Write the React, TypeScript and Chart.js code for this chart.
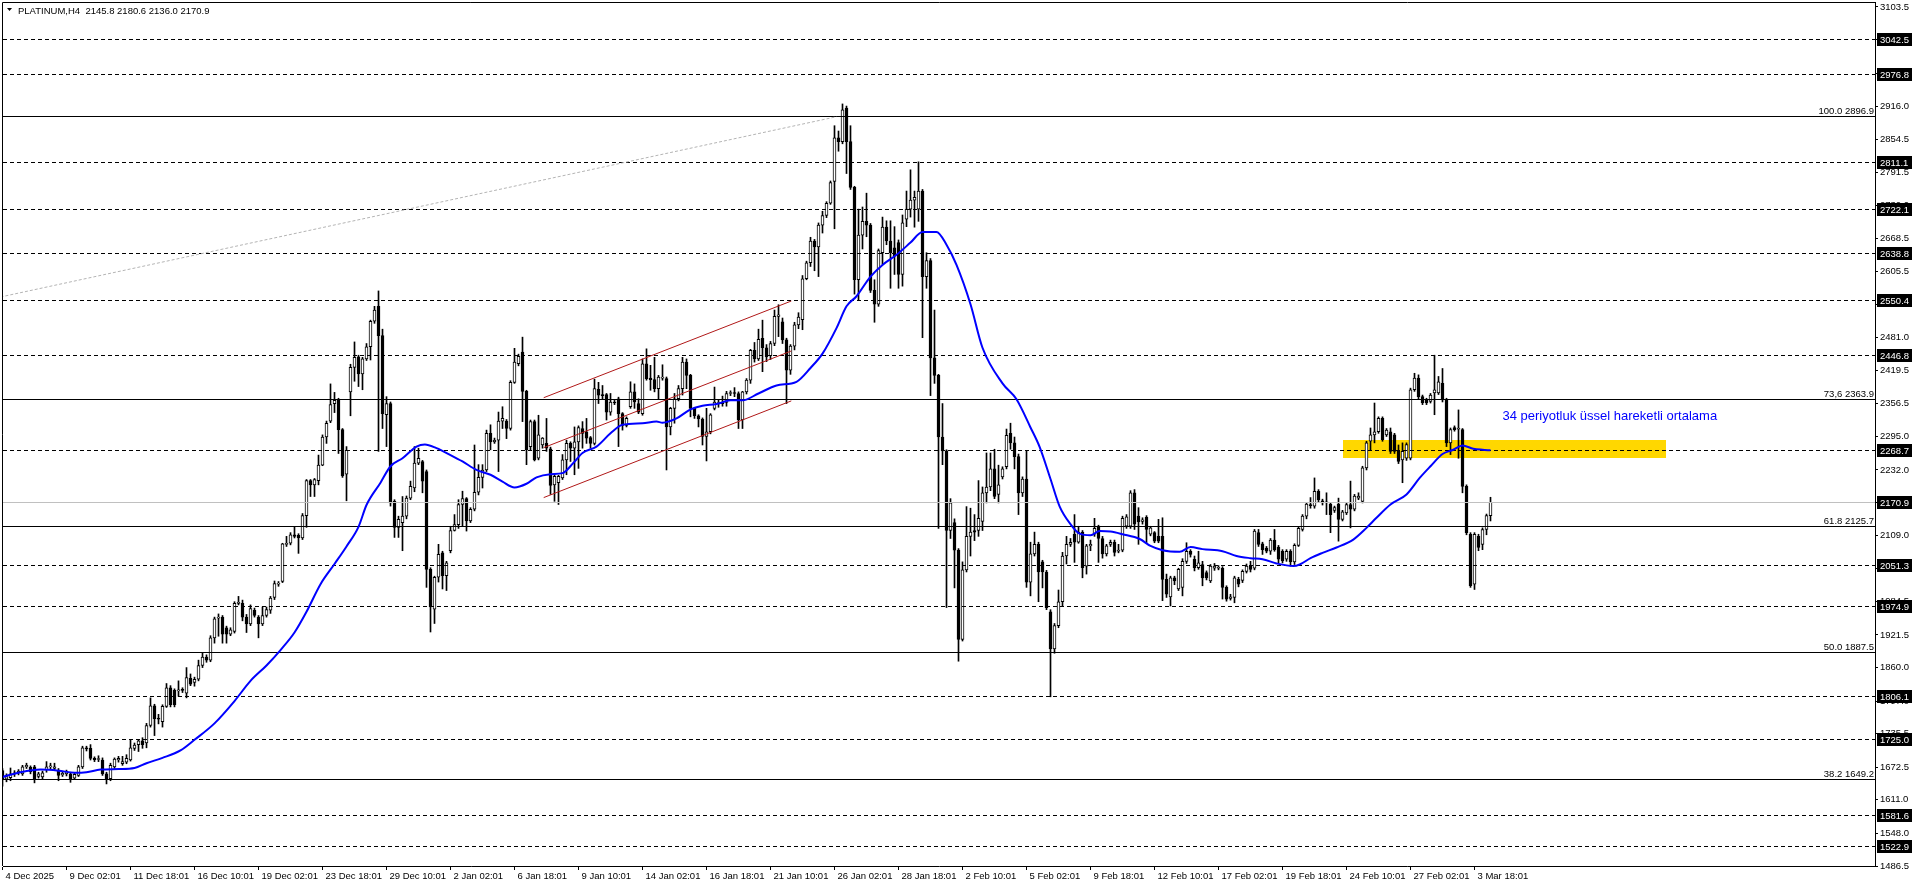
import React, { useEffect, useRef } from "react";
import { Chart, registerables } from "chart.js";

Chart.register(...registerables);

// ---------------- data ----------------
const symbolTitle = "PLATINUM,H4";

const opens = [
  1666,1650,1653,1660,1662,1660,1673,1672,1673,1655,
  1654,1668,1673,1670,1667,1658,1660,1660,1652,1657,
  1673,1709,1708,1689,1687,1686,1660,1651,1673,1686,
  1679,1682,1686,1708,1715,1722,1718,1751,1788,1765,
  1758,1787,1822,1817,1816,1818,1812,1840,1832,1838,
  1864,1880,1874,1916,1953,1955,1935,1923,1928,1981,
  1981,1955,1942,1968,1955,1942,1958,1968,1992,2017,
  2022,2092,2094,2110,2109,2104,2146,2212,2204,2212,
  2241,2294,2324,2357,2363,2308,2224,2379,2425,2445,
  2413,2441,2464,2512,2540,2485,2336,2357,2173,2124,
  2133,2145,2179,2198,2245,2248,2229,2045,1970,2030,
  2076,2033,2080,2118,2129,2167,2178,2136,2158,2190,
  2218,2232,2301,2285,2288,2324,2324,2310,2397,2432,
  2454,2380,2276,2323,2254,2279,2282,2272,2204,2208,
  2217,2251,2282,2273,2285,2310,2304,2293,2282,2384,
  2373,2374,2341,2360,2366,2338,2316,2351,2379,2357,
  2338,2432,2405,2402,2385,2405,2404,2313,2348,2366,
  2385,2435,2410,2348,2334,2328,2295,2304,2348,2357,
  2357,2359,2376,2377,2376,2326,2379,2401,2457,2441,
  2480,2462,2447,2470,2521,2511,2477,2420,2465,2505,
  2515,2592,2622,2663,2652,2693,2711,2734,2775,2857,
  2850,2913,2850,2764,2590,2674,2700,2693,2570,2544,
  2641,2689,2663,2650,2660,2600,2704,2723,2740,2723,
  2757,2596,2626,2443,2410,2294,2268,2118,2133,2081,
  1913,2044,2107,2118,2118,2135,2189,2200,2234,2186,
  2219,2238,2301,2283,2257,2189,2215,2021,2074,2092,
  2059,2040,1965,1895,1939,1984,2070,2092,2111,2096,
  2115,2051,2089,2111,2126,2103,2074,2092,2096,2079,
  2081,2126,2126,2189,2145,2135,2143,2111,2114,2107,
  2107,2026,1993,2029,2008,2011,2060,2079,2064,2048,
  2054,2039,2023,2047,2047,2047,2011,1990,1992,2026,
  2024,2041,2051,2047,2114,2093,2085,2079,2100,2087,
  2079,2064,2079,2059,2090,2120,2145,2167,2164,2192,
  2174,2170,2168,2156,2168,2139,2151,2167,2158,2179,
  2173,2236,2286,2298,2304,2329,2298,2304,2298,2267,
  2251,2254,2254,2383,2405,2370,2364,2361,2377,2377,
  2395,2364,2283,2312,2309,2308,2201,2111,2017,2107,
  2092,2120,2145.8,
];

const highs = [
  1670,1660,1671,1666,1668,1676,1680,1675,1676,1663,
  1665,1683,1680,1680,1670,1664,1667,1663,1662,1676,
  1712,1712,1715,1692,1694,1690,1663,1680,1690,1693,
  1693,1696,1725,1718,1725,1728,1755,1803,1791,1772,
  1790,1830,1826,1820,1835,1822,1860,1848,1842,1874,
  1887,1884,1920,1955,1961,1958,1938,1935,1984,1994,
  1987,1960,1978,1972,1958,1974,1974,1994,2023,2022,
  2094,2107,2114,2125,2112,2150,2214,2214,2216,2260,
  2298,2324,2394,2378,2367,2310,2276,2431,2473,2448,
  2444,2470,2514,2540,2569,2497,2370,2360,2176,2145,
  2182,2183,2211,2276,2273,2250,2232,2048,2032,2092,
  2079,2060,2126,2148,2176,2192,2180,2161,2279,2242,
  2242,2307,2317,2292,2341,2351,2327,2400,2461,2450,
  2482,2382,2326,2326,2335,2293,2329,2275,2225,2222,
  2261,2288,2285,2313,2315,2323,2329,2295,2403,2397,
  2391,2376,2376,2363,2369,2340,2332,2398,2394,2366,
  2441,2460,2429,2444,2410,2430,2407,2350,2376,2391,
  2444,2441,2412,2350,2336,2330,2348,2338,2388,2365,
  2371,2380,2381,2387,2379,2380,2404,2459,2472,2497,
  2514,2468,2474,2533,2543,2518,2480,2468,2510,2528,
  2598,2625,2670,2666,2697,2719,2737,2776,2880,2870,
  2921,2917,2880,2766,2723,2727,2753,2696,2590,2648,
  2708,2701,2701,2690,2665,2712,2757,2797,2757,2812,
  2760,2641,2630,2533,2412,2357,2270,2178,2140,2084,
  2059,2163,2160,2148,2212,2200,2264,2264,2271,2241,
  2238,2309,2320,2294,2262,2219,2268,2096,2115,2096,
  2062,2043,1969,1943,2006,2077,2107,2103,2148,2126,
  2118,2092,2100,2141,2128,2107,2092,2100,2100,2092,
  2145,2148,2193,2195,2161,2142,2146,2126,2116,2139,
  2142,2036,2032,2032,2047,2065,2095,2082,2070,2079,
  2060,2042,2054,2056,2052,2050,2014,1998,2032,2030,
  2044,2055,2060,2120,2120,2096,2088,2103,2120,2090,
  2082,2082,2082,2093,2125,2148,2170,2180,2217,2195,
  2177,2189,2171,2164,2179,2156,2170,2211,2186,2189,
  2239,2286,2311,2358,2332,2332,2310,2311,2301,2279,
  2283,2283,2386,2414,2411,2373,2367,2376,2448,2408,
  2423,2367,2311,2315,2345,2310,2204,2114,2114,2111,
  2123,2149,2180.6,
];

const lows = [
  1637,1645,1647,1655,1658,1657,1670,1660,1643,1652,
  1650,1663,1669,1666,1647,1655,1656,1644,1649,1655,
  1670,1703,1686,1683,1683,1657,1641,1647,1670,1682,
  1676,1679,1684,1704,1702,1708,1709,1748,1732,1754,
  1748,1785,1786,1786,1806,1813,1803,1826,1825,1835,
  1860,1870,1871,1906,1919,1906,1906,1920,1925,1978,
  1948,1926,1939,1955,1916,1939,1955,1962,1988,2013,
  2020,2088,2091,2104,2075,2101,2124,2182,2182,2204,
  2240,2282,2321,2340,2263,2218,2174,2334,2399,2389,
  2383,2438,2439,2508,2267,2310,2276,2164,2105,2105,
  2080,2140,2176,2191,2242,2189,2011,1927,1943,2021,
  2008,2005,2076,2117,2122,2126,2117,2133,2155,2185,
  2198,2229,2270,2282,2229,2310,2291,2307,2395,2428,
  2323,2242,2270,2249,2251,2273,2267,2186,2173,2167,
  2214,2223,2248,2223,2235,2273,2282,2273,2279,2357,
  2366,2326,2335,2355,2276,2307,2313,2348,2348,2338,
  2335,2401,2382,2379,2366,2401,2232,2298,2320,2362,
  2373,2385,2332,2329,2313,2279,2249,2300,2345,2350,
  2352,2352,2372,2370,2310,2310,2375,2395,2435,2438,
  2417,2436,2440,2466,2483,2470,2357,2412,2458,2498,
  2496,2590,2615,2607,2596,2678,2707,2732,2686,2832,
  2846,2790,2760,2563,2551,2648,2671,2566,2510,2540,
  2619,2656,2574,2600,2574,2578,2690,2708,2689,2700,
  2481,2574,2372,2395,2122,2242,1973,2103,2010,1872,
  1910,2040,2070,2099,2107,2118,2170,2193,2178,2170,
  2215,2234,2271,2234,2148,2182,2011,1995,2070,1984,
  2010,1969,1805,1887,1935,1976,2055,2088,2058,2094,
  2029,2036,2080,2107,2058,2066,2070,2088,2070,2076,
  2078,2122,2122,2120,2092,2130,2095,2108,2095,2095,
  1986,1992,1976,2016,2005,1995,2056,2068,2042,2045,
  2014,2025,2020,2043,2044,1989,1985,1987,1982,2012,
  2020,2038,2040,2044,2088,2073,2076,2073,2079,2057,
  2057,2060,2051,2054,2088,2117,2140,2160,2160,2172,
  2166,2148,2114,2152,2098,2136,2148,2123,2155,2176,
  2170,2232,2270,2283,2301,2286,2295,2263,2263,2244,
  2208,2250,2251,2380,2366,2355,2355,2358,2336,2374,
  2360,2276,2261,2305,2254,2189,2110,2011,2007,2080,
  2082,2110,2136.0,
];

const closes = [
  1650,1655,1660,1662,1665,1673,1676,1664,1651,1660,
  1662,1673,1675,1673,1657,1661,1664,1651,1659,1673,
  1709,1707,1689,1686,1688,1660,1649,1676,1688,1689,
  1683,1689,1709,1714,1722,1715,1751,1788,1764,1763,
  1787,1822,1790,1790,1818,1817,1841,1829,1838,1864,
  1880,1874,1916,1952,1955,1923,1923,1931,1981,1983,
  1955,1942,1971,1958,1942,1958,1969,1991,2018,2019,
  2093,2094,2110,2107,2104,2146,2212,2204,2214,2241,
  2294,2320,2355,2363,2308,2221,2269,2425,2444,2413,
  2441,2464,2512,2533,2485,2338,2357,2170,2124,2139,
  2145,2179,2201,2245,2254,2211,2045,1974,2030,2073,
  2033,2057,2118,2129,2167,2178,2136,2158,2190,2218,
  2232,2301,2285,2288,2324,2329,2310,2397,2435,2446,
  2380,2270,2323,2251,2298,2292,2273,2203,2220,2220,
  2251,2282,2273,2285,2312,2301,2292,2282,2385,2373,
  2372,2341,2360,2358,2338,2316,2329,2379,2360,2341,
  2432,2404,2402,2385,2407,2406,2313,2348,2366,2385,
  2435,2410,2348,2334,2328,2295,2304,2336,2360,2358,
  2360,2376,2377,2376,2326,2379,2401,2457,2441,2478,
  2462,2445,2470,2521,2524,2477,2420,2465,2505,2520,
  2592,2622,2663,2652,2693,2711,2734,2773,2857,2850,
  2910,2850,2764,2590,2674,2700,2693,2570,2544,2645,
  2689,2663,2641,2635,2600,2697,2723,2740,2745,2757,
  2596,2626,2443,2410,2294,2268,2118,2170,2081,1913,
  2044,2107,2115,2115,2141,2189,2200,2234,2182,2204,
  2234,2297,2283,2257,2189,2215,2021,2074,2092,2040,
  2040,1973,1895,1939,1984,2070,2092,2096,2096,2115,
  2048,2089,2092,2122,2103,2074,2089,2096,2077,2081,
  2141,2144,2189,2130,2134,2138,2120,2123,2098,2098,
  2026,1998,2029,2023,2045,2060,2079,2073,2048,2057,
  2029,2029,2051,2051,2048,2011,1989,1993,2029,2017,
  2041,2051,2045,2117,2092,2082,2079,2100,2082,2064,
  2061,2079,2059,2090,2122,2145,2168,2165,2192,2176,
  2170,2171,2148,2161,2139,2153,2167,2158,2183,2183,
  2236,2283,2298,2304,2329,2289,2307,2267,2267,2248,
  2267,2280,2383,2405,2370,2358,2358,2373,2383,2398,
  2364,2283,2308,2308,2311,2201,2114,2014,2111,2086,
  2120,2146,2170.9,
];

// 34-period EMA (bar index, value)
const emaBars = [
  0,4.5,9.5,14,18,21,24.5,29,33,36,40,44.5,48,53,58,62,66,69.5,73,76,
  79.5,83,86,89,91,94.5,97,100,103.5,105.6,108.5,112,115,118.5,122,125,128,131,133.5,137,
  140,142.7,145,148.5,152,155,160,163.5,165,168.5,172,175,178.5,182,185,189,193.5,198.5,202,205,
  208.5,211,213.5,217,220,223.5,227,230,233.5,236,238.5,242,245,250,253.5,257,259.3,262,264.3,267,
  269.3,272,274.3,277,280,284.3,287,290,294.3,297,300,305,308.5,312,315,318.5,322.7,324.3,327,330,
  333.5,337.7,341,343.5,347,351,354.3,357,360,362.7,365,367.7,370,372,
];
const emaValues = [
  1654,1663,1668,1666,1662,1663,1668,1669,1671,1680,1690,1704,1724,1755,1797,1835,1864,1893,1926,1965,
  2017,2055,2088,2125,2166,2208,2239,2254,2276,2280,2273,2260,2248,2232,2223,2210,2199,2206,2218,2224,
  2226,2245,2264,2276,2301,2317,2320,2323,2321,2329,2346,2353,2356,2363,2363,2376,2391,2398,2424,2451,
  2499,2540,2559,2596,2618,2637,2660,2680,2680,2656,2618,2544,2462,2395,2365,2312,2275,2215,2163,2130,
  2112,2109,2117,2116,2111,2102,2089,2081,2078,2087,2083,2079,2070,2066,2064,2056,2051,2054,2066,2076,
  2086,2101,2123,2142,2167,2186,2217,2239,2262,2270,2278,2272,2270,2269,
];

const xTickLabels = [
  "4 Dec 2025","9 Dec 02:01","11 Dec 18:01","16 Dec 10:01","19 Dec 02:01","23 Dec 18:01",
  "29 Dec 10:01","2 Jan 02:01","6 Jan 18:01","9 Jan 10:01","14 Jan 02:01","16 Jan 18:01",
  "21 Jan 10:01","26 Jan 02:01","28 Jan 18:01","2 Feb 10:01","5 Feb 02:01","9 Feb 18:01",
  "12 Feb 10:01","17 Feb 02:01","19 Feb 18:01","24 Feb 10:01","27 Feb 02:01","3 Mar 18:01",
];
const barsPerTick = 16;

const yTickValues = [
  3103.5,3042.0,2979.0,2916.0,2854.5,2791.5,2730.0,2668.5,2605.5,2544.0,2481.0,2419.5,2356.5,2295.0,
  2232.0,2170.5,2109.0,2046.0,1984.5,1921.5,1860.0,1797.0,1735.5,1672.5,1611.0,1548.0,1486.5,
];

const dashedLevels = [3042.5,2976.8,2811.1,2722.1,2638.8,2550.4,2446.8,2268.7,2051.3,1974.9,1806.1,1725.0,1581.6,1522.9];
const fibLevels = [2896.9,2363.9,2125.7,1887.5,1649.2];
const fibNames = ["100.0","73,6","61.8","50.0","38.2"];
const bidPrice = 2170.9;

const channelBars = [135.3,197.2];
const channelUpper = [2368,2550];
const channelMiddle = [2274,2456];
const channelLower = [2180,2362];

const trendBars = [-0.5,208.5];
const trendValues = [2557.6,2896.9];

const zoneBars = [335.2,415.8];
const zonePrices = [2255,2288];

const noteText = "34 periyotluk üssel hareketli ortalama";
const noteBar = 375;
const notePrice = 2332;

// ---------------- component ----------------
const X_MIN = 0.125;
const X_MAX = 468.125;
const Y_MIN = 1486.5;
const Y_MAX = 3111.0;
const FONT = '"Liberation Sans", Arial, sans-serif';

export default function App() {
  const canvasRef = useRef<HTMLCanvasElement>(null);

  useEffect(() => {
    document.body.style.margin = "0";
    const canvas = canvasRef.current;
    if (!canvas) return;

    const wickData = opens.map((_, i) => ({ x: i, y: [lows[i], highs[i]] }));
    const bodyData = opens.map((o, i) => ({ x: i, y: [o, closes[i]] }));
    const bodyColors = opens.map((o, i) => (closes[i] >= o ? "#FFFFFF" : "#000000"));
    const emaData = emaBars.map((b, i) => ({ x: b, y: emaValues[i] }));
    const seg = (bars: number[], vals: number[]) => bars.map((b, i) => ({ x: b, y: vals[i] }));

    const overlay = {
      id: "mt4overlay",
      beforeDatasetsDraw(chart: any) {
        const { ctx, chartArea, scales } = chart;
        const xs = scales.x, ys = scales.y;
        ctx.save();
        ctx.beginPath();
        ctx.rect(chartArea.left, chartArea.top, chartArea.right - chartArea.left, chartArea.bottom - chartArea.top);
        ctx.clip();
        const x0 = Math.round(xs.getPixelForValue(zoneBars[0]));
        const x1 = Math.round(xs.getPixelForValue(zoneBars[1]));
        const y0 = Math.round(ys.getPixelForValue(zonePrices[1]));
        const y1 = Math.round(ys.getPixelForValue(zonePrices[0]));
        ctx.fillStyle = "#FFD700";
        ctx.fillRect(x0, y0, x1 - x0, y1 - y0);
        ctx.restore();
      },
      afterDatasetDraw(chart: any, args: any) {
        if (chart.data.datasets[args.index].label !== "bodies") return;
        const { ctx, chartArea, scales } = chart;
        const ys = scales.y;
        const row = (v: number) => Math.floor(ys.getPixelForValue(v)) + 0.5;
        ctx.save();
        ctx.lineWidth = 1;
        const hline = (v: number, color: string, dash: number[]) => {
          ctx.strokeStyle = color;
          ctx.setLineDash(dash);
          ctx.beginPath();
          ctx.moveTo(chartArea.left, row(v));
          ctx.lineTo(chartArea.right, row(v));
          ctx.stroke();
        };
        hline(bidPrice, "#C0C0C0", []);
        dashedLevels.forEach((v) => hline(v, "#000000", [4, 3]));
        fibLevels.forEach((v) => hline(v, "#000000", []));
        ctx.restore();
      },
      afterDraw(chart: any) {
        const { ctx, chartArea, scales } = chart;
        const xs = scales.x, ys = scales.y;
        ctx.save();
        // plot frame (top / left)
        ctx.strokeStyle = "#000";
        ctx.lineWidth = 1;
        ctx.setLineDash([]);
        ctx.beginPath();
        ctx.moveTo(chartArea.left - 0.5, chartArea.bottom);
        ctx.lineTo(chartArea.left - 0.5, chartArea.top - 0.5);
        ctx.lineTo(chartArea.right + 1, chartArea.top - 0.5);
        ctx.stroke();

        // fibo labels
        ctx.font = `9.5px ${FONT}`;
        ctx.fillStyle = "#000";
        ctx.textAlign = "right";
        ctx.textBaseline = "alphabetic";
        fibLevels.forEach((v, i) => {
          const r = Math.floor(ys.getPixelForValue(v));
          ctx.fillText(`${fibNames[i]} ${v.toFixed(1)}`, chartArea.right - 1, r - 2);
        });

        // price-axis boxes
        ctx.textAlign = "left";
        ctx.textBaseline = "middle";
        [...dashedLevels, bidPrice].forEach((v) => {
          const cy = Math.floor(ys.getPixelForValue(v));
          ctx.fillStyle = "#000";
          ctx.fillRect(chartArea.right + 2, cy - 6, 35, 13);
          ctx.fillStyle = "#FFF";
          ctx.fillText(v.toFixed(1), chartArea.right + 5, cy + 1);
        });

        // title
        const last = opens.length - 1;
        ctx.fillStyle = "#000";
        ctx.beginPath();
        ctx.moveTo(7, 8);
        ctx.lineTo(12, 8);
        ctx.lineTo(9.5, 11);
        ctx.closePath();
        ctx.fill();
        ctx.textBaseline = "alphabetic";
        ctx.font = `9.5px ${FONT}`;
        ctx.fillText(
          `${symbolTitle}  ${opens[last].toFixed(1)} ${highs[last].toFixed(1)} ${lows[last].toFixed(1)} ${closes[last].toFixed(1)}`,
          18,
          14
        );

        // note text
        ctx.fillStyle = "#0000FF";
        ctx.font = `13px ${FONT}`;
        ctx.textBaseline = "middle";
        ctx.fillText(noteText, xs.getPixelForValue(noteBar), ys.getPixelForValue(notePrice));
        ctx.restore();
      },
    };

    const chart = new Chart(canvas, {
      type: "bar",
      data: {
        datasets: [
          {
            type: "bar",
            label: "wicks",
            data: wickData as any,
            backgroundColor: "#000000",
            borderWidth: 0,
            barThickness: 1,
            grouped: false,
            order: 10,
          } as any,
          {
            type: "bar",
            label: "bodies",
            data: bodyData as any,
            backgroundColor: bodyColors,
            borderColor: "#000000",
            borderWidth: 1,
            borderSkipped: false,
            barThickness: 3,
            minBarLength: 1,
            grouped: false,
            order: 9,
          } as any,
          {
            type: "line",
            label: "channelUpper",
            data: seg(channelBars, channelUpper),
            borderColor: "#B01818",
            borderWidth: 1,
            pointRadius: 0,
            order: 5,
          } as any,
          {
            type: "line",
            label: "channelMiddle",
            data: seg(channelBars, channelMiddle),
            borderColor: "#B01818",
            borderWidth: 1,
            pointRadius: 0,
            order: 5,
          } as any,
          {
            type: "line",
            label: "channelLower",
            data: seg(channelBars, channelLower),
            borderColor: "#B01818",
            borderWidth: 1,
            pointRadius: 0,
            order: 5,
          } as any,
          {
            type: "line",
            label: "trend",
            data: seg(trendBars, trendValues),
            borderColor: "#B4B4B4",
            borderWidth: 1,
            borderDash: [3, 2],
            pointRadius: 0,
            order: 5,
          } as any,
          {
            type: "line",
            label: "ema34",
            data: emaData,
            borderColor: "#0000FF",
            borderWidth: 2,
            pointRadius: 0,
            cubicInterpolationMode: "monotone",
            order: 1,
          } as any,
        ],
      },
      options: {
        responsive: false,
        animation: false,
        devicePixelRatio: 1,
        events: [],
        layout: { padding: { top: 3, left: 3, right: 0, bottom: 0 } },
        plugins: { legend: { display: false }, tooltip: { enabled: false }, title: { display: false } },
        scales: {
          x: {
            type: "linear",
            min: X_MIN,
            max: X_MAX,
            offset: false,
            position: "bottom",
            grid: { display: true, drawOnChartArea: false, drawTicks: true, tickLength: 4, color: "#000", offset: false },
            border: { display: true, color: "#000", width: 1 },
            afterBuildTicks: (s: any) => {
              s.ticks = xTickLabels.map((_, i) => ({ value: i * barsPerTick }));
            },
            afterFit: (s: any) => {
              s.height = 22;
              s.paddingLeft = 0;
              s.paddingRight = 0;
            },
            ticks: {
              autoSkip: false,
              maxRotation: 0,
              minRotation: 0,
              align: "start",
              labelOffset: 3,
              padding: 1,
              color: "#000",
              font: { family: FONT, size: 9.5 },
              callback: (v: any) => xTickLabels[Math.round(Number(v) / barsPerTick)] ?? "",
            },
          } as any,
          y: {
            type: "linear",
            position: "right",
            min: Y_MIN,
            max: Y_MAX,
            grid: { drawOnChartArea: false, drawTicks: true, tickLength: 3, color: "#000" },
            border: { display: true, color: "#000", width: 1 },
            afterBuildTicks: (s: any) => {
              s.ticks = yTickValues.map((v) => ({ value: v }));
            },
            afterFit: (s: any) => {
              s.width = 41;
              s.paddingTop = 0;
              s.paddingBottom = 0;
            },
            ticks: {
              autoSkip: false,
              padding: 2,
              color: "#000",
              font: { family: FONT, size: 9.5 },
              callback: (v: any) => Number(v).toFixed(1),
            },
          } as any,
        },
      },
      plugins: [overlay],
    } as any);

    return () => chart.destroy();
  }, []);

  return (
    <div style={{ width: 1916, height: 888 }}>
      <canvas ref={canvasRef} width={1916} height={888} style={{ display: "block" }} />
    </div>
  );
}
